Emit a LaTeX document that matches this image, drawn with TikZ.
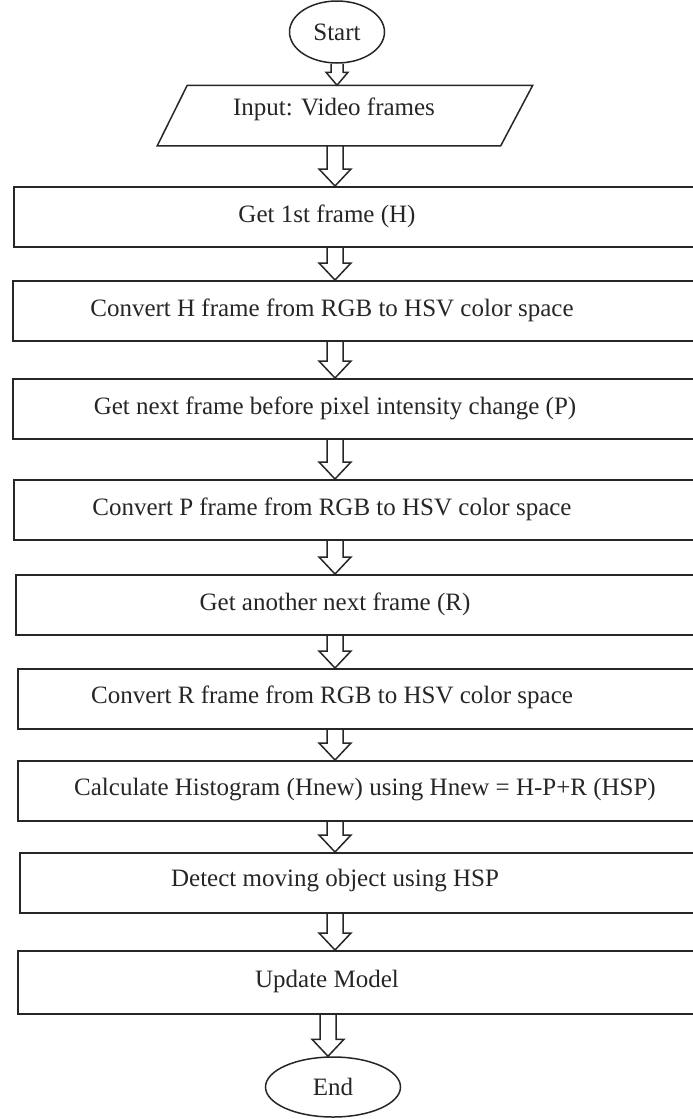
\documentclass[tikz,border=0pt]{standalone}
\usepackage{fontspec}
\setmainfont{Liberation Serif}
\usetikzlibrary{shapes.geometric}
\usetikzlibrary{calc}

\tikzset{
    stepbox/.style = {draw, rectangle, anchor = north west, minimum width = 690pt, minimum height = 60pt, inner sep = 0pt},
    steptext/.style = {font = \fontsize{25}{30}\selectfont, inner sep = 0pt},
    terminal/.style = {draw, ellipse, font = \fontsize{25}{30}\selectfont, inner sep = 0pt},
    blockarrow/.style = {draw, line join = miter},
}

\def\shaftw{8}
\def\headw{16}
\def\headl{17}
% hollow block arrow: from, to, axis
\newcommand{\flowarrow}[3]{%
    \draw[blockarrow]
        ($(#1.south -| #3)+(-\shaftw,0)$) --
        ($(#2.north -| #3)+(-\shaftw,-\headl)$) -- ++(\shaftw-\headw,0) --
        (#2.north -| #3) -- ++(\headw,-\headl) -- ++(\shaftw-\headw,0) --
        ($(#1.south -| #3)+(\shaftw,0)$);}

\begin{document}
\begin{tikzpicture}[x = 1pt, y = -1pt, line width = 1.5pt, color = black!85]
        \useasboundingbox (0,0) rectangle (693,1119);

        \coordinate (ax) at (335,0);
        \coordinate (axtop) at (337,0);
        \coordinate (axend) at (328,0);

        \node[terminal, minimum width = 95pt, minimum height = 62pt] (start) at (337,32) {Start};

        % input parallelogram
        \node[rectangle, minimum width = 374pt, minimum height = 59pt, inner sep = 0pt] (input) at (345,115.5) {};
        \draw ($(input.north west)+(30,0)$) -- (input.north east) -- ($(input.south east)+(-32,0)$) -- (input.south west) -- cycle;
        \node[steptext] (tin) at (334,109) {Input: Video frames};

        \node[stepbox] (b1) at (13,186) {};
        \node[stepbox] (b2) at (12,280) {};
        \node[stepbox] (b3) at (12,378) {};
        \node[stepbox] (b4) at (13,479) {};
        \node[stepbox] (b5) at (15,574) {};
        \node[stepbox] (b6) at (17,668) {};
        \node[stepbox] (b7) at (17,760) {};
        \node[stepbox] (b8) at (19,852) {};
        \node[stepbox, minimum height = 63pt] (b9) at (17,950) {};

        \node[steptext] (t1) at (327,216) {Get 1st frame (H)};
        \node[steptext] (t2) at (332,310) {Convert H frame from RGB to HSV color space};
        \node[steptext] (t3) at (335,408) {Get next frame before pixel intensity change (P)};
        \node[steptext] (t4) at (332,509) {Convert P frame from RGB to HSV color space};
        \node[steptext] (t5) at (335,604) {Get another next frame (R)};
        \node[steptext] (t6) at (332,697) {Convert R frame from RGB to HSV color space};
        \node[steptext] (t7) at (365,790) {Calculate Histogram (Hnew) using Hnew = H-P+R (HSP)};
        \node[steptext] (t8) at (335,881) {Detect moving object using HSP};
        \node[steptext] (t9) at (327,981) {Update Model};

        \node[terminal, minimum width = 135pt, minimum height = 60pt] (end) at (333,1087) {End};

        {\def\shaftw{6}\def\headw{11}\def\headl{13}\flowarrow{start}{input}{axtop}}
        \flowarrow{input}{b1}{ax}
        \flowarrow{b1}{b2}{ax}
        \flowarrow{b2}{b3}{ax}
        \flowarrow{b3}{b4}{ax}
        \flowarrow{b4}{b5}{ax}
        \flowarrow{b5}{b6}{ax}
        \flowarrow{b6}{b7}{ax}
        \flowarrow{b7}{b8}{ax}
        \flowarrow{b8}{b9}{ax}
        \flowarrow{b9}{end}{axend}
\end{tikzpicture}
\end{document}
